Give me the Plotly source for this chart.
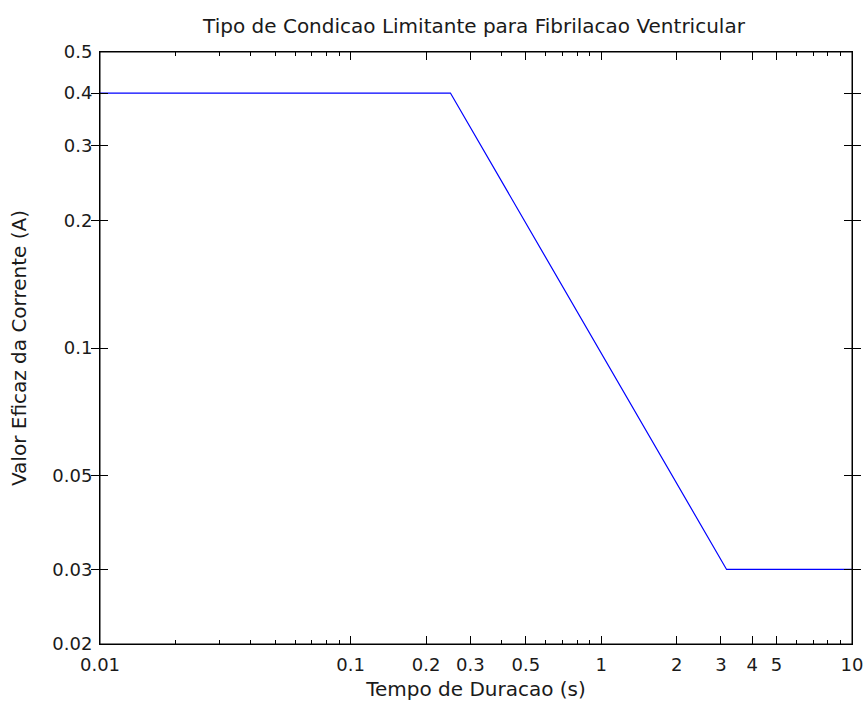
import plotly.graph_objects as go

# Data
tempo = [0.01, 0.25, 3.16, 10]
corrente = [0.4, 0.4, 0.03, 0.03]

x_tickvals = [0.01, 0.1, 0.2, 0.3, 0.5, 1, 2, 3, 4, 5, 10]
x_ticktext = ["0.01", "0.1", "0.2", "0.3", "0.5", "1", "2", "3", "4", "5", "10"]
x_minor = [0.02, 0.03, 0.04, 0.05, 0.06, 0.07, 0.08, 0.09,
           0.4, 0.6, 0.7, 0.8, 0.9,
           6, 7, 8, 9]
y_tickvals = [0.02, 0.03, 0.05, 0.1, 0.2, 0.3, 0.4, 0.5]
y_ticktext = ["0.02", "0.03", "0.05", "0.1", "0.2", "0.3", "0.4", "0.5"]

FONT = "DejaVu Sans, Arial, sans-serif"
XR = [-2, 1]
YR = [-1.69897, -0.30103]

fig = go.Figure()
fig.add_trace(go.Scatter(x=tempo, y=corrente, mode="lines",
                         line=dict(color="#0000ff", width=1.2), showlegend=False))
fig.add_trace(go.Scatter(x=[tempo[0]], y=[corrente[0]], xaxis="x2", mode="markers",
                         marker=dict(opacity=0), hoverinfo="skip", showlegend=False))

fig.update_layout(
    width=864, height=704,
    margin=dict(l=100, r=12, t=52, b=60, autoexpand=False),
    paper_bgcolor="white", plot_bgcolor="white",
    font=dict(family=FONT, size=18, color="#1a1a1a"),
    title=dict(text="Tipo de Condicao Limitante para Fibrilacao Ventricular",
               x=474 / 864, xanchor="center", y=1 - 26 / 704, yanchor="middle",
               font=dict(size=20)),
    xaxis=dict(
        type="log", range=XR, showgrid=False, zeroline=False, automargin=False,
        showline=True, linecolor="black", linewidth=1, mirror="allticks",
        layer="above traces",
        tickmode="array", tickvals=x_tickvals, ticktext=x_ticktext,
        ticks="inside", ticklen=8, tickcolor="black", tickwidth=1,
        tickfont=dict(size=18), ticklabelstandoff=4,
        title=dict(text="Tempo de Duracao (s)", font=dict(size=20), standoff=8),
    ),
    xaxis2=dict(
        type="log", range=XR, overlaying="x", anchor="y", side="bottom",
        showgrid=False, zeroline=False, showline=False, automargin=False,
        tickmode="array", tickvals=x_minor, showticklabels=False,
        ticks="inside", ticklen=4, tickcolor="black", tickwidth=1, mirror="allticks",
    ),
    yaxis=dict(
        type="log", range=YR, showgrid=False, zeroline=False, automargin=False,
        showline=True, linecolor="black", linewidth=1, mirror="allticks",
        layer="above traces",
        tickmode="array", tickvals=y_tickvals, ticktext=y_ticktext,
        ticks="inside", ticklen=8, tickcolor="black", tickwidth=1,
        tickfont=dict(size=18), ticklabelstandoff=3,
        title=dict(text="Valor Eficaz da Corrente (A)", font=dict(size=20), standoff=20),
    ),
)
fig.add_shape(type="rect", xref="paper", yref="paper", x0=0, x1=1, y0=0, y1=1,
              line=dict(color="black", width=1), fillcolor="rgba(0,0,0,0)", layer="above")

fig.write_html("out.html", config={"displayModeBar": False},
               post_script="document.body.style.margin='0px';")
